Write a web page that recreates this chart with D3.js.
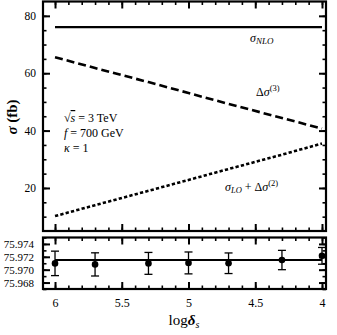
<!DOCTYPE html>
<html>
<head>
<meta charset="utf-8">
<script src="https://cdn.jsdelivr.net/npm/d3@7"></script>
<style>
  body { margin: 0; background: #fff; }
  text { font-family: "Liberation Serif", serif; fill: #000; }
</style>
</head>
<body>
<div id="chart"></div>
<script>
// data
var logDelta = [6, 5.7, 5.3, 5, 4.7, 4.3, 4];
var sigmaNLO = [76.1, 76.1, 76.1, 76.1, 76.1, 76.1, 76.1];
var deltaSigma3 = [65.6, 61.8, 56.9, 53.1, 49.3, 44.4, 40.7];
var sigmaLOplus2 = [10.2, 14.0, 19.0, 22.8, 26.6, 31.6, 35.5];
var nloPoints = [75.97098, 75.97082, 75.97098, 75.97105, 75.97100, 75.97150, 75.97215];
var nloErrors = [0.0019, 0.0018, 0.0017, 0.0017, 0.0016, 0.0015, 0.0013];
var nloFit = 75.97149;
var xTicks = [6, 5.5, 5, 4.5, 4];
var topYTicks = [20, 40, 60, 80];
var lowYTicks = [75.968, 75.970, 75.972, 75.974];

var W = 337, H = 335;
var left = 43, right = 326;

var svg = d3.select('#chart').append('svg')
    .attr('width', W)
    .attr('height', H);

var x = d3.scaleLinear().domain([6.09, 3.97]).range([left, right]);
var yTop = d3.scaleLinear().domain([5, 85]).range([231, 1.5]);
var yLow = d3.scaleLinear().domain([75.967, 75.975]).range([289, 237.5]);

var minorX = d3.range(40, 61).map(function(d) { return d / 10; })
    .filter(function(d) { return d >= 3.97 && d <= 6.09; });

function frame(y, yMinor, yMajor, fmt, top, bottom, fs, pad) {
    var g = svg.append('g');
    // inward ticks on all four sides
    g.append('g').attr('transform', 'translate(0,' + bottom + ')')
        .call(d3.axisBottom(x).tickValues(minorX).tickSize(-3.5).tickFormat(''))
        .call(function(s) { s.select('.domain').remove(); s.selectAll('line').attr('stroke-width', 1.6); });
    g.append('g').attr('transform', 'translate(0,' + bottom + ')')
        .call(d3.axisBottom(x).tickValues(xTicks).tickSize(-7).tickFormat(''))
        .call(function(s) { s.select('.domain').remove(); s.selectAll('line').attr('stroke-width', 2); });
    g.append('g').attr('transform', 'translate(0,' + top + ')')
        .call(d3.axisTop(x).tickValues(minorX).tickSize(-3.5).tickFormat(''))
        .call(function(s) { s.select('.domain').remove(); s.selectAll('line').attr('stroke-width', 1.6); });
    g.append('g').attr('transform', 'translate(0,' + top + ')')
        .call(d3.axisTop(x).tickValues(xTicks).tickSize(-7).tickFormat(''))
        .call(function(s) { s.select('.domain').remove(); s.selectAll('line').attr('stroke-width', 2); });
    g.append('g').attr('transform', 'translate(' + left + ',0)')
        .call(d3.axisLeft(y).tickValues(yMinor).tickSize(-3.5).tickFormat(''))
        .call(function(s) { s.select('.domain').remove(); s.selectAll('line').attr('stroke-width', 1.6); });
    g.append('g').attr('transform', 'translate(' + left + ',0)')
        .call(d3.axisLeft(y).tickValues(yMajor).tickSize(-7).tickPadding(pad).tickFormat(fmt))
        .call(function(s) {
            s.select('.domain').remove();
            s.selectAll('line').attr('stroke-width', 2);
            s.selectAll('text').attr('font-size', fs).attr('fill', '#000');
        });
    g.append('g').attr('transform', 'translate(' + right + ',0)')
        .call(d3.axisRight(y).tickValues(yMinor).tickSize(-3.5).tickFormat(''))
        .call(function(s) { s.select('.domain').remove(); s.selectAll('line').attr('stroke-width', 1.6); });
    g.append('g').attr('transform', 'translate(' + right + ',0)')
        .call(d3.axisRight(y).tickValues(yMajor).tickSize(-7).tickFormat(''))
        .call(function(s) { s.select('.domain').remove(); s.selectAll('line').attr('stroke-width', 2); });
    g.append('rect')
        .attr('x', left).attr('y', top)
        .attr('width', right - left).attr('height', bottom - top)
        .attr('fill', 'none').attr('stroke', '#000').attr('stroke-width', 2.2);
}

// upper panel
frame(yTop, d3.range(10, 85, 5), topYTicks, d3.format('d'), yTop.range()[1], yTop.range()[0], 11.5, 7);

var line = d3.line().x(function(d, i) { return x(logDelta[i]); }).y(function(d) { return yTop(d); });

svg.append('path').attr('d', line(sigmaNLO))
    .attr('fill', 'none').attr('stroke', '#000').attr('stroke-width', 2.2);
svg.append('path').attr('d', line(deltaSigma3))
    .attr('fill', 'none').attr('stroke', '#000').attr('stroke-width', 2.6)
    .attr('stroke-dasharray', '8,4');
svg.append('path').attr('d', line(sigmaLOplus2))
    .attr('fill', 'none').attr('stroke', '#000').attr('stroke-width', 2.6)
    .attr('stroke-dasharray', '3.3,2.2');

// labels in upper panel
var t1 = svg.append('text').attr('x', 250).attr('y', 42).attr('font-size', 12);
t1.append('tspan').attr('font-style', 'italic').text('σ');
t1.append('tspan').attr('font-style', 'italic').attr('font-size', 9).attr('dy', 2).text('NLO');

var t2 = svg.append('text').attr('x', 256).attr('y', 96).attr('font-size', 12);
t2.append('tspan').text('Δ');
t2.append('tspan').attr('font-style', 'italic').text('σ');
t2.append('tspan').attr('font-size', 8.5).attr('dy', -5).text('(3)');

var t3 = svg.append('text').attr('x', 225).attr('y', 191).attr('font-size', 12);
t3.append('tspan').attr('font-style', 'italic').text('σ');
t3.append('tspan').attr('font-style', 'italic').attr('font-size', 8.5).attr('dy', 2).text('LO');
t3.append('tspan').attr('dy', -2).text(' + Δ');
t3.append('tspan').attr('font-style', 'italic').text('σ');
t3.append('tspan').attr('font-size', 8.5).attr('dy', -5).text('(2)');

var p1 = svg.append('text').attr('x', 64).attr('y', 122).attr('font-size', 12);
p1.append('tspan').text('√');
p1.append('tspan').attr('font-style', 'italic').attr('text-decoration', 'overline').text('s');
p1.append('tspan').text(' = 3 TeV');
var p2 = svg.append('text').attr('x', 64).attr('y', 137).attr('font-size', 12);
p2.append('tspan').attr('font-style', 'italic').text('f');
p2.append('tspan').text(' = 700 GeV');
var p3 = svg.append('text').attr('x', 64).attr('y', 152).attr('font-size', 12);
p3.append('tspan').attr('font-style', 'italic').text('κ');
p3.append('tspan').text(' = 1');

// lower panel
frame(yLow, d3.range(0, 9).map(function(i) { return 75.967 + i * 0.001; }), lowYTicks, d3.format('.3f'), yLow.range()[1], yLow.range()[0], 11, 9);

svg.append('line')
    .attr('x1', x(6)).attr('x2', x(4))
    .attr('y1', yLow(nloFit)).attr('y2', yLow(nloFit))
    .attr('stroke', '#000').attr('stroke-width', 2);

var eb = svg.append('g').selectAll('g').data(nloPoints).enter().append('g');
eb.append('line')
    .attr('x1', function(d, i) { return x(logDelta[i]); })
    .attr('x2', function(d, i) { return x(logDelta[i]); })
    .attr('y1', function(d, i) { return yLow(d + nloErrors[i]); })
    .attr('y2', function(d, i) { return yLow(d - nloErrors[i]); })
    .attr('stroke', '#000').attr('stroke-width', 1.3);
eb.append('line')
    .attr('x1', function(d, i) { return x(logDelta[i]) - 4; })
    .attr('x2', function(d, i) { return x(logDelta[i]) + 4; })
    .attr('y1', function(d, i) { return yLow(d + nloErrors[i]); })
    .attr('y2', function(d, i) { return yLow(d + nloErrors[i]); })
    .attr('stroke', '#000').attr('stroke-width', 1.3);
eb.append('line')
    .attr('x1', function(d, i) { return x(logDelta[i]) - 4; })
    .attr('x2', function(d, i) { return x(logDelta[i]) + 4; })
    .attr('y1', function(d, i) { return yLow(d - nloErrors[i]); })
    .attr('y2', function(d, i) { return yLow(d - nloErrors[i]); })
    .attr('stroke', '#000').attr('stroke-width', 1.3);
eb.append('circle')
    .attr('cx', function(d, i) { return x(logDelta[i]); })
    .attr('cy', function(d) { return yLow(d); })
    .attr('r', 3.3).attr('fill', '#000');

// x tick labels
svg.append('g').attr('transform', 'translate(0,289)')
    .call(d3.axisBottom(x).tickValues(xTicks).tickSize(0).tickPadding(9).tickFormat(d3.format('')))
    .call(function(s) {
        s.select('.domain').remove();
        s.selectAll('text').attr('font-size', 12).attr('fill', '#000');
    });

// axis titles
var xl = svg.append('text').attr('x', 184).attr('y', 325).attr('text-anchor', 'middle').attr('font-size', 15);
xl.append('tspan').text('log');
xl.append('tspan').attr('font-weight', 'bold').attr('font-style', 'italic').text('δ');
xl.append('tspan').attr('font-style', 'italic').attr('font-size', 10).attr('dy', 3).text('s');

var yl = svg.append('text').attr('transform', 'translate(17,117) rotate(-90)')
    .attr('text-anchor', 'middle').attr('font-size', 15);
yl.append('tspan').attr('font-weight', 'bold').attr('font-style', 'italic').text('σ');
yl.append('tspan').attr('font-weight', 'bold').text(' (fb)');
</script>
</body>
</html>
